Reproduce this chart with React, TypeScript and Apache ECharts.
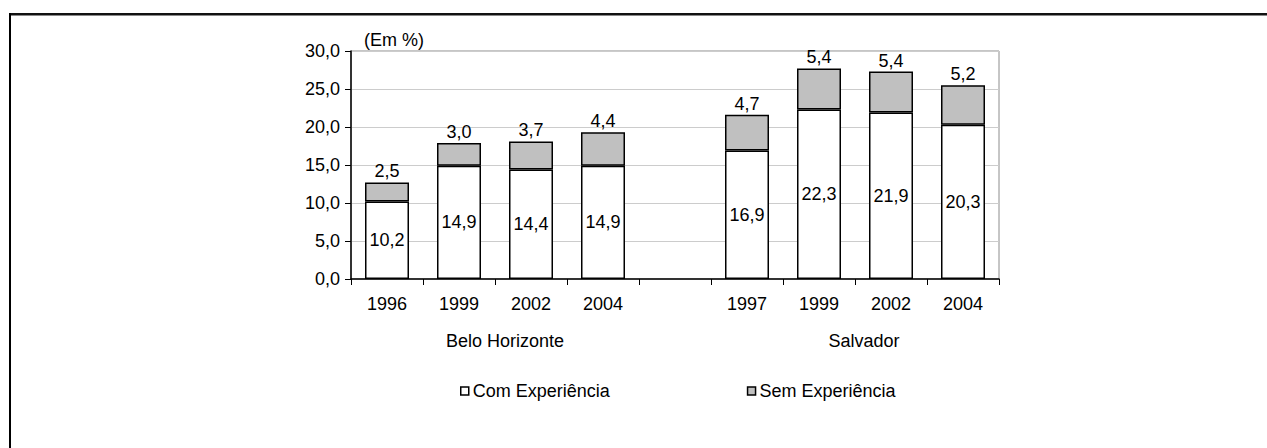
import React, { useEffect, useRef } from "react";
import * as echarts from "echarts";

const categories = ["1996", "1999", "2002", "2004", "", "1997", "1999", "2002", "2004"];
const comExperiencia = [10.2, 14.9, 14.4, 14.9, "-", 16.9, 22.3, 21.9, 20.3];
const semExperiencia = [2.5, 3.0, 3.7, 4.4, "-", 4.7, 5.4, 5.4, 5.2];
const groupLabels = ["Belo Horizonte", "Salvador"];
const seriesNames = ["Com Experiência", "Sem Experiência"];
const unitLabel = "(Em %)";

const FONT = "'Liberation Sans', Arial, sans-serif";
const FS = 18;

const fmt = (v: number) => v.toFixed(1).replace(".", ",");

export default function App() {
  const ref = useRef<HTMLDivElement>(null);

  useEffect(() => {
    document.body.style.margin = "0";
    if (!ref.current) return;
    const chart = echarts.init(ref.current, null, { renderer: "svg" });
    chart.setOption({
      animation: false,
      backgroundColor: "#ffffff",
      textStyle: { fontFamily: FONT, fontSize: FS, color: "#000" },
      grid: {
        left: 351,
        right: 268,
        top: 51,
        bottom: 169,
        show: true,
        borderColor: "#8c8c8c",
        borderWidth: 1,
        backgroundColor: "transparent",
      },
      legend: {
        left: 460,
        top: 382,
        padding: 0,
        itemGap: 137,
        itemWidth: 8,
        itemHeight: 8,
        icon: "rect",
        textStyle: { fontFamily: FONT, fontSize: FS, color: "#000", padding: [0, 0, 0, -1] },
        itemStyle: { borderColor: "#000", borderWidth: 1.5 },
        data: seriesNames,
      },
      xAxis: {
        type: "category",
        data: categories,
        axisLine: { show: true, lineStyle: { color: "#000", width: 1.5 } },
        axisTick: { show: true, length: 6, lineStyle: { color: "#000", width: 1 } },
        axisLabel: { fontFamily: FONT, fontSize: FS, color: "#000", margin: 16, interval: 0 },
        splitLine: { show: false },
      },
      yAxis: {
        type: "value",
        min: 0,
        max: 30,
        interval: 5,
        axisLine: { show: true, lineStyle: { color: "#000", width: 1.5 } },
        axisTick: { show: true, length: 6, lineStyle: { color: "#000", width: 1 } },
        axisLabel: {
          fontFamily: FONT,
          fontSize: FS,
          color: "#000",
          margin: 11,
          formatter: (v: number) => fmt(v),
        },
        splitLine: { show: true, lineStyle: { color: "#cccccc", width: 1 } },
      },
      series: [
        {
          name: seriesNames[0],
          type: "bar",
          stack: "total",
          barWidth: 44,
          data: comExperiencia,
          itemStyle: { color: "#ffffff", borderColor: "#000", borderWidth: 1.5 },
          label: {
            show: true,
            position: "inside",
            fontFamily: FONT,
            fontSize: FS,
            color: "#000",
            formatter: (p: any) => fmt(p.value),
          },
        },
        {
          name: seriesNames[1],
          type: "bar",
          stack: "total",
          barWidth: 44,
          data: semExperiencia,
          itemStyle: { color: "#c0c0c0", borderColor: "#000", borderWidth: 1.5 },
          label: {
            show: true,
            position: "top",
            distance: 2,
            fontFamily: FONT,
            fontSize: FS,
            color: "#000",
            formatter: (p: any) => fmt(p.value),
          },
        },
      ],
      graphic: [
        {
          type: "line",
          shape: { x1: 10, y1: 14, x2: 1267, y2: 14 },
          style: { stroke: "#111", lineWidth: 2 },
          silent: true,
        },
        {
          type: "line",
          shape: { x1: 10, y1: 15.5, x2: 1267, y2: 15.5 },
          style: { stroke: "#888", lineWidth: 1 },
          silent: true,
        },
        {
          type: "line",
          shape: { x1: 10, y1: 13, x2: 10, y2: 448 },
          style: { stroke: "#000", lineWidth: 2 },
          silent: true,
        },
        {
          type: "text",
          left: 364,
          top: 31,
          style: { text: unitLabel, font: `${FS}px ${FONT}`, fill: "#000" },
          silent: true,
        },
        {
          type: "text",
          x: 505,
          y: 341,
          style: {
            text: groupLabels[0],
            font: `${FS}px ${FONT}`,
            fill: "#000",
            align: "center",
            verticalAlign: "middle",
          },
          silent: true,
        },
        {
          type: "text",
          x: 864,
          y: 341,
          style: {
            text: groupLabels[1],
            font: `${FS}px ${FONT}`,
            fill: "#000",
            align: "center",
            verticalAlign: "middle",
          },
          silent: true,
        },
      ],
    });
    return () => chart.dispose();
  }, []);

  return (
    <div
      ref={ref}
      style={{ position: "absolute", left: 0, top: 0, width: 1267, height: 448, background: "#fff" }}
    />
  );
}
